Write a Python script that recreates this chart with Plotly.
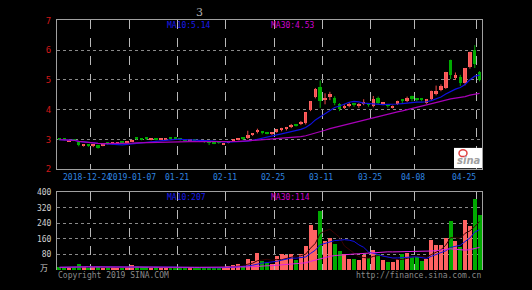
import plotly.graph_objects as go
import pandas as pd

# ---------------- data ----------------
dates = [
    "2018-12-14", "2018-12-17", "2018-12-18", "2018-12-19", "2018-12-20", "2018-12-21",
    "2018-12-24", "2018-12-25", "2018-12-26", "2018-12-27", "2018-12-28",
    "2019-01-02", "2019-01-03", "2019-01-04", "2019-01-07", "2019-01-08", "2019-01-09",
    "2019-01-10", "2019-01-11", "2019-01-14", "2019-01-15", "2019-01-16", "2019-01-17",
    "2019-01-18", "2019-01-21", "2019-01-22", "2019-01-23", "2019-01-24", "2019-01-25",
    "2019-01-28", "2019-01-29", "2019-01-30", "2019-01-31",
    "2019-02-01", "2019-02-11", "2019-02-12", "2019-02-13", "2019-02-14", "2019-02-15",
    "2019-02-18", "2019-02-19", "2019-02-20", "2019-02-21", "2019-02-22", "2019-02-25",
    "2019-02-26", "2019-02-27", "2019-02-28",
    "2019-03-01", "2019-03-04", "2019-03-05", "2019-03-06", "2019-03-07", "2019-03-08",
    "2019-03-11", "2019-03-12", "2019-03-13", "2019-03-14", "2019-03-15", "2019-03-18",
    "2019-03-19", "2019-03-20", "2019-03-21", "2019-03-22", "2019-03-25", "2019-03-26",
    "2019-03-27", "2019-03-28", "2019-03-29",
    "2019-04-01", "2019-04-02", "2019-04-03", "2019-04-04", "2019-04-08", "2019-04-09",
    "2019-04-10", "2019-04-11", "2019-04-12", "2019-04-15", "2019-04-16", "2019-04-17",
    "2019-04-18", "2019-04-19", "2019-04-22", "2019-04-23", "2019-04-24", "2019-04-25",
    "2019-04-26",
]

opens = [
    3.00, 3.00, 2.93, 2.96, 2.89, 2.79, 2.80, 2.79, 2.81, 2.79,
    2.86, 2.84, 2.86, 2.90, 2.88, 2.92, 3.02, 3.00, 3.01, 2.99,
    3.00, 2.99, 2.99, 3.02, 3.01, 2.99, 2.97, 2.96, 2.96, 2.95,
    2.93, 2.91, 2.88, 2.88, 2.83, 2.88, 2.95, 2.99, 3.01, 3.02,
    3.14, 3.26, 3.23, 3.22, 3.17, 3.24, 3.31, 3.34, 3.40, 3.49,
    3.52, 3.52, 3.98, 4.40, 4.76, 4.33, 4.40, 4.38, 4.16, 4.07,
    4.14, 4.17, 4.12, 4.19, 4.18, 4.11, 4.38, 4.18, 4.13, 4.07,
    4.19, 4.31, 4.29, 4.44, 4.35, 4.34, 4.22, 4.33, 4.51, 4.65,
    4.73, 5.66, 5.05, 5.08, 4.87, 5.41, 5.98, 5.25,
]
closes = [
    2.99, 2.98, 2.96, 2.95, 2.79, 2.81, 2.78, 2.81, 2.71, 2.81,
    2.84, 2.87, 2.88, 2.89, 2.90, 2.98, 3.01, 2.99, 3.00, 3.00,
    2.99, 3.00, 3.01, 3.01, 3.00, 2.97, 2.96, 2.97, 2.95, 2.93,
    2.90, 2.87, 2.86, 2.87, 2.86, 2.93, 2.98, 3.00, 3.00, 3.13,
    3.18, 3.28, 3.21, 3.19, 3.21, 3.32, 3.33, 3.36, 3.48, 3.46,
    3.55, 3.89, 4.27, 4.68, 4.27, 4.38, 4.51, 4.22, 4.01, 4.10,
    4.17, 4.15, 4.14, 4.24, 4.15, 4.33, 4.22, 4.20, 4.11, 4.09,
    4.27, 4.29, 4.38, 4.33, 4.33, 4.33, 4.33, 4.60, 4.62, 4.78,
    5.25, 5.16, 5.16, 4.87, 5.38, 5.92, 5.52, 4.98,
]
highs = [
    3.02, 3.01, 2.97, 2.97, 2.91, 2.84, 2.82, 2.83, 2.82, 2.85,
    2.87, 2.89, 2.90, 2.91, 2.92, 2.99, 3.06, 3.02, 3.04, 3.02,
    3.01, 3.02, 3.03, 3.04, 3.02, 3.00, 2.98, 2.99, 2.97, 2.96,
    2.94, 2.93, 2.89, 2.90, 2.88, 2.94, 2.99, 3.03, 3.04, 3.29,
    3.21, 3.36, 3.28, 3.25, 3.24, 3.35, 3.39, 3.42, 3.52, 3.52,
    3.62, 3.90, 4.28, 4.73, 4.98, 4.55, 4.60, 4.45, 4.22, 4.18,
    4.25, 4.22, 4.22, 4.35, 4.22, 4.46, 4.44, 4.24, 4.17, 4.14,
    4.30, 4.36, 4.44, 4.47, 4.38, 4.38, 4.36, 4.64, 4.81, 4.85,
    5.27, 5.68, 5.25, 5.17, 5.40, 5.95, 6.17, 5.30,
]
lows = [
    2.97, 2.96, 2.92, 2.94, 2.77, 2.76, 2.75, 2.74, 2.69, 2.77,
    2.82, 2.83, 2.85, 2.87, 2.86, 2.91, 2.98, 2.97, 2.98, 2.97,
    2.97, 2.98, 2.98, 2.99, 2.98, 2.96, 2.94, 2.95, 2.93, 2.91,
    2.88, 2.81, 2.84, 2.85, 2.82, 2.87, 2.94, 2.97, 2.98, 3.01,
    3.12, 3.20, 3.17, 3.17, 3.15, 3.22, 3.27, 3.30, 3.38, 3.43,
    3.48, 3.50, 3.95, 4.38, 4.06, 4.18, 4.32, 4.15, 3.95, 4.02,
    4.08, 4.10, 4.06, 4.15, 4.10, 4.08, 4.17, 4.15, 4.07, 4.04,
    4.16, 4.22, 4.25, 4.28, 4.28, 4.28, 4.20, 4.31, 4.48, 4.62,
    4.70, 5.03, 5.00, 4.80, 4.82, 5.38, 5.40, 4.95,
]
volumes = [
    14, 16, 12, 13, 32, 15, 12, 13, 17, 12,
    14, 13, 10, 12, 14, 24, 18, 22, 14, 12,
    13, 11, 12, 13, 12, 11, 10, 12, 11, 12,
    13, 14, 12, 11, 13, 22, 25, 28, 20, 55,
    48, 88, 47, 38, 28, 72, 80, 75, 80, 52,
    80, 121, 229, 204, 304, 146, 163, 135, 96, 80,
    55, 58, 52, 77, 63, 100, 80, 52, 42, 42,
    55, 80, 88, 68, 68, 47, 58, 155, 130, 130,
    165, 252, 150, 118, 258, 228, 362, 280,
]

tick_dates = ["2018-12-24", "2019-01-07", "2019-01-21", "2019-02-11", "2019-02-25",
              "2019-03-11", "2019-03-25", "2019-04-08", "2019-04-25"]
tick_labels = ["2018-12-24", "2019-01-07", "01-21", "02-11", "02-25",
               "03-11", "03-25", "04-08", "04-25"]
price_ticks = [2, 3, 4, 5, 6, 7]
vol_ticks = [80, 160, 240, 320, 400]
price_ma_text = ["MA10:5.14", "MA30:4.53"]
vol_ma_text = ["MA10:207", "MA30:114"]
title_text = "3"

# ---------------- derived ----------------
n = len(dates)
x = list(range(n))
pos = {d: i for i, d in enumerate(dates)}
grid_x = [pos[d] + 0.45 for d in tick_dates]

cs = pd.Series(closes)
vs = pd.Series(volumes)
ma10 = cs.rolling(10, min_periods=1).mean()
ma30 = cs.rolling(30, min_periods=1).mean()
vma5 = vs.rolling(5, min_periods=1).mean()
vma10 = vs.rolling(10, min_periods=1).mean()
vma30 = vs.rolling(30, min_periods=1).mean()

RED = "#ff6262"
RED_WICK = "#f04848"
GREEN = "#00aa00"
up = [c >= o for o, c in zip(opens, closes)]
vol_colors = [RED if u else GREEN for u in up]

W, H = 532, 290
def px(xp):
    return xp / W
def py(yp):
    return 1 - yp / H

MONO = "DejaVu Sans Mono"

fig = go.Figure()

# wicks
for flag, col in ((True, RED_WICK), (False, GREEN)):
    wx, wy = [], []
    for i in range(n):
        if up[i] == flag:
            wx += [i, i, None]
            wy += [lows[i], highs[i], None]
    fig.add_trace(go.Scatter(x=wx, y=wy, mode="lines", line=dict(color=col, width=1),
                             xaxis="x", yaxis="y", showlegend=False, hoverinfo="skip"))

# bodies
for flag, col in ((True, RED), (False, GREEN)):
    bx = [i for i in range(n) if up[i] == flag]
    base = [min(opens[i], closes[i]) for i in bx]
    hgt = [max(abs(closes[i] - opens[i]), 0.035) for i in bx]
    fig.add_trace(go.Bar(x=bx, y=hgt, base=base, width=0.72,
                         marker=dict(color=col, line=dict(width=0)),
                         xaxis="x", yaxis="y", showlegend=False, hoverinfo="skip"))

fig.add_trace(go.Scatter(x=x, y=ma10, mode="lines", line=dict(color="#1010e0", width=1.2),
                         xaxis="x", yaxis="y", showlegend=False, hoverinfo="skip"))
fig.add_trace(go.Scatter(x=x, y=ma30, mode="lines", line=dict(color="#a800b8", width=1.2),
                         xaxis="x", yaxis="y", showlegend=False, hoverinfo="skip"))

fig.add_trace(go.Bar(x=x, y=volumes, marker=dict(color=vol_colors, line=dict(width=0)),
                     width=0.82, xaxis="x2", yaxis="y2", showlegend=False, hoverinfo="skip"))
fig.add_trace(go.Scatter(x=x, y=vma5, mode="lines", line=dict(color="#3a0000", width=1),
                         xaxis="x2", yaxis="y2", showlegend=False, hoverinfo="skip"))
fig.add_trace(go.Scatter(x=x, y=vma10, mode="lines", line=dict(color="#1010e8", width=1),
                         xaxis="x2", yaxis="y2", showlegend=False, hoverinfo="skip"))
fig.add_trace(go.Scatter(x=x, y=vma30, mode="lines", line=dict(color="#e020e0", width=1),
                         xaxis="x2", yaxis="y2", showlegend=False, hoverinfo="skip"))

xdom = [px(57), px(482)]
axis_common = dict(range=[-0.5, n - 0.5], tickvals=grid_x, showticklabels=False,
                   showgrid=True, gridcolor="#b8b8b8", griddash="dash", gridwidth=1,
                   zeroline=False, ticks="", fixedrange=True)

def ann(text, xp, yp, color, size=8, family=MONO, xanchor="left", **kw):
    return dict(text=text, x=px(xp), y=py(yp), xref="paper", yref="paper",
                xanchor=xanchor, yanchor="middle", showarrow=False,
                font=dict(family=family, size=size, color=color), **kw)

annotations = [
    ann(title_text, 199, 8, "#b0b0b0", size=11, family="DejaVu Serif", xanchor="center"),
    ann(price_ma_text[0], 165, 21, "#1a1aee"),
    ann(price_ma_text[1], 269, 21, "#d000d0"),
    ann(vol_ma_text[0], 165, 199, "#1a1aee"),
    ann(vol_ma_text[1], 269, 199, "#d000d0"),
    ann("万", 44, 272, "#d0d0d0", size=8, family="Noto Sans CJK SC", xanchor="center"),
    ann("Copyright 2019 SINA.COM", 56, 280, "#8a8a8a"),
    ann("http://finance.sina.com.cn", 483, 280, "#8a8a8a", xanchor="right"),
    ann("<b><i>sina</i></b>", 468, 161, "#a0a0a0", size=10, family="DejaVu Sans", xanchor="center"),
]

label_shift = [-4, 2.5, -0.5, -1, -1, -1.5, -1, -1.5, 0]
for i, (gx, lab) in enumerate(zip(grid_x, tick_labels)):
    last = i == len(grid_x) - 1
    annotations.append(dict(text=lab, x=gx, y=py(179), xref="x", yref="paper",
                            xanchor="right" if last else "center", yanchor="middle",
                            xshift=label_shift[i], showarrow=False, borderpad=0,
                            font=dict(family=MONO, size=8, color="#2f86e0")))

shapes = [
    dict(type="rect", xref="paper", yref="paper", x0=px(454), x1=px(482), y0=py(169), y1=py(148),
         fillcolor="white", line=dict(width=0), layer="above"),
    dict(type="circle", xref="paper", yref="paper", x0=px(459), x1=px(467), y0=py(157), y1=py(150),
         line=dict(color="#e04040", width=1.5), layer="above"),
]

fig.update_layout(
    width=W, height=H, margin=dict(l=0, r=0, t=0, b=0),
    paper_bgcolor="black", plot_bgcolor="black",
    showlegend=False, barmode="overlay", bargap=0,
    xaxis=dict(domain=xdom, anchor="y",
               showline=True, linecolor="#a0a0a0", linewidth=1, mirror=True, **axis_common),
    yaxis=dict(domain=[py(170), py(16)], range=[2, 7], tickvals=price_ticks,
               showgrid=True, gridcolor="#8a8a8a", griddash="dot", gridwidth=1,
               showline=True, linecolor="#a0a0a0", linewidth=1, mirror=True,
               zeroline=False, ticks="outside", ticklen=3, tickcolor="black",
               tickfont=dict(family=MONO, size=9, color="#d01818"), fixedrange=True),
    xaxis2=dict(domain=xdom, anchor="y2", side="top",
                showline=True, linecolor="#a0a0a0", linewidth=1, **axis_common),
    yaxis2=dict(domain=[py(274.5), py(193.8)], range=[0, 400], tickvals=vol_ticks,
                showgrid=True, gridcolor="#8a8a8a", griddash="dot", gridwidth=1,
                showline=True, linecolor="#a0a0a0", linewidth=1, mirror=True,
                zeroline=False, ticks="outside", ticklen=3, tickcolor="black",
                tickfont=dict(family=MONO, size=8, color="#d0d0d0"), fixedrange=True),
    annotations=annotations, shapes=shapes,
)

fig.write_html("out.html")
